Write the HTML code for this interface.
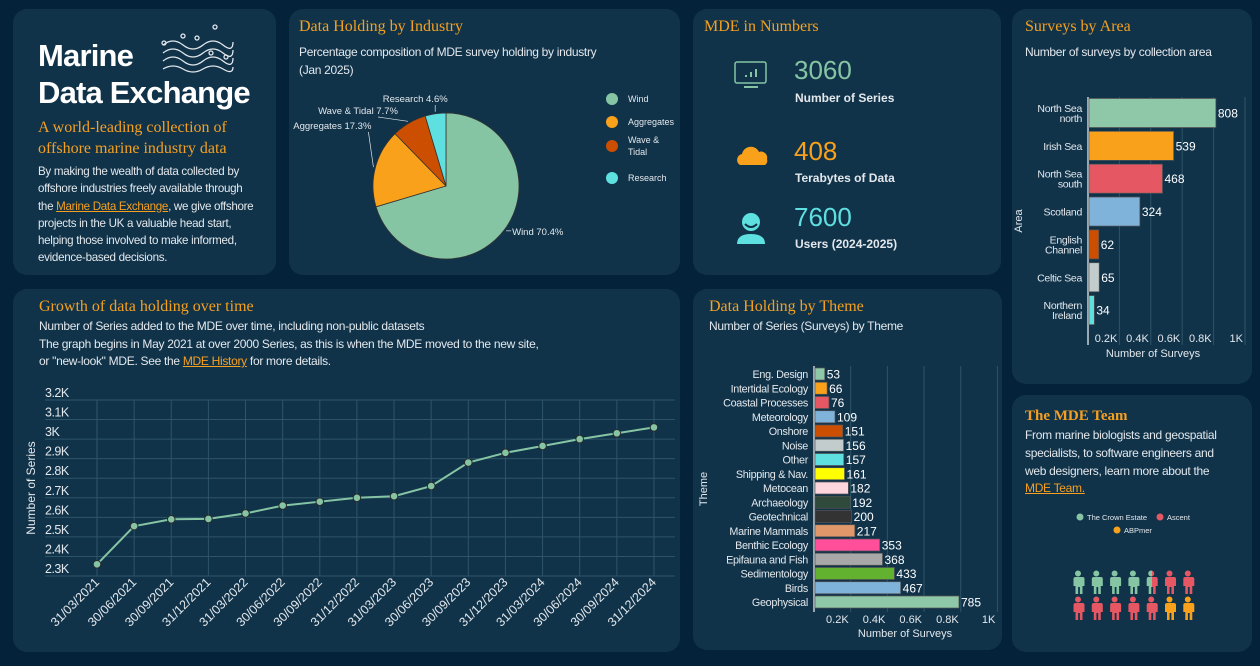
<!DOCTYPE html>
<html><head><meta charset="utf-8">
<style>
*{margin:0;padding:0;box-sizing:border-box}
body{width:1260px;height:666px;background:#04223a;font-family:"Liberation Sans",sans-serif;color:#e3e8ec;position:relative;overflow:hidden}
.p{position:absolute;background:#11334a;border-radius:14px}
.t{position:absolute;font-family:"Liberation Serif",serif;color:#f5a020;font-size:16px;white-space:nowrap}
.s{position:absolute;font-size:12px;letter-spacing:-0.3px;color:#e3e8ec;line-height:17.5px;white-space:nowrap}
a{color:#f5a020;text-decoration:underline}
svg{position:absolute;left:0;top:0}
svg text{font-family:"Liberation Sans",sans-serif}
</style></head><body>
<div class="p" style="left:13px;top:9px;width:263px;height:266px"></div>
<div class="p" style="left:289px;top:9px;width:391px;height:266px"></div>
<div class="p" style="left:693px;top:9px;width:308px;height:266px"></div>
<div class="p" style="left:1012px;top:9px;width:240px;height:375px"></div>
<div class="p" style="left:13px;top:289px;width:667px;height:363px"></div>
<div class="p" style="left:693px;top:289px;width:309px;height:361px"></div>
<div class="p" style="left:1012px;top:395px;width:240px;height:257px"></div>

<div style="position:absolute;left:38px;top:37px;font-size:31px;font-weight:bold;line-height:37px;color:#fff;letter-spacing:-0.8px">Marine<br>Data Exchange</div>
<div class="t" style="left:38px;top:117px;font-size:16px;line-height:21px">A world-leading collection of<br>offshore marine industry data</div>
<div class="s" style="left:38px;top:163px;font-size:11.6px;line-height:17.3px">By making the wealth of data collected by<br>offshore industries freely available through<br>the <a>Marine Data Exchange</a>, we give offshore<br>projects in the UK a valuable head start,<br>helping those involved to make informed,<br>evidence-based decisions.</div>

<div class="t" style="left:299px;top:18px">Data Holding by Industry</div>
<div class="s" style="left:299px;top:44px">Percentage composition of MDE survey holding by industry<br>(Jan 2025)</div>

<div class="t" style="left:704px;top:18px">MDE in Numbers</div>
<div style="position:absolute;left:794px;top:55px;font-size:26px;color:#86c5a4">3060</div>
<div style="position:absolute;left:795px;top:91px;font-size:12px;font-weight:bold">Number of Series</div>
<div style="position:absolute;left:794px;top:136px;font-size:26px;color:#f9a11b">408</div>
<div style="position:absolute;left:795px;top:171px;font-size:12px;font-weight:bold">Terabytes of Data</div>
<div style="position:absolute;left:794px;top:202px;font-size:26px;color:#5ee0e0">7600</div>
<div style="position:absolute;left:795px;top:237px;font-size:12px;font-weight:bold">Users (2024-2025)</div>

<div class="t" style="left:1025px;top:18px">Surveys by Area</div>
<div class="s" style="left:1025px;top:44px">Number of surveys by collection area</div>

<div class="t" style="left:39px;top:298px">Growth of data holding over time</div>
<div class="s" style="left:39px;top:318px">Number of Series added to the MDE over time, including non-public datasets<br>The graph begins in May 2021 at over 2000 Series, as this is when the MDE moved to the new site,<br>or "new-look" MDE. See the <a>MDE History</a> for more details.</div>

<div class="t" style="left:709px;top:298px">Data Holding by Theme</div>
<div class="s" style="left:709px;top:318px">Number of Series (Surveys)  by Theme</div>

<div class="t" style="left:1025px;top:408px;font-weight:bold;font-size:15px">The MDE Team</div>
<div class="s" style="left:1025px;top:427px;font-size:12px;line-height:17.8px">From marine biologists and geospatial<br>specialists, to software engineers and<br>web designers, learn more about the<br><a>MDE Team.</a></div>

<svg id="s" width="1260" height="666">
<g fill="none" stroke="#e3e8ec" stroke-width="1.3">
<path d="M163 45 q10 -8 20 0 t20 0 t20 0 t10 -3"/><path d="M163 53 q10 -8 20 0 t20 0 t20 0 t10 -3"/><path d="M163 61 q10 -8 20 0 t20 0 t20 0 t10 -3"/><path d="M163 69 q10 -6 20 0 t20 0 t20 0 t10 -2"/>
<circle cx="164" cy="43" r="2"/><circle cx="183" cy="36" r="2"/><circle cx="197" cy="38" r="2"/><circle cx="215" cy="27" r="2"/><circle cx="211" cy="53" r="2"/><circle cx="226" cy="57" r="2"/>
</g>
<g fill="none" stroke="#86c5a4" stroke-width="1.5"><rect x="735" y="62" width="31" height="21" rx="2"/><line x1="744" y1="87" x2="758" y2="87" stroke-width="2"/><path d="M746 77v-2M751 77v-5M756 77v-8" stroke-width="2"/></g>
<path d="M740 165 a6 6 0 0 1 2 -11 a9 9 0 0 1 17 -2 a6 6 0 0 1 8 7 a5 5 0 0 1 -2 6 z" fill="#f9a11b"/>
<g fill="#5ee0e0"><circle cx="751" cy="222" r="9"/><path d="M737 244 q0 -10 14 -10 q14 0 14 10 z"/><path d="M745 224 q6 6 12 0" stroke="#11334a" stroke-width="2" fill="none"/></g>
</svg>

<script>
const NS="http://www.w3.org/2000/svg",S=document.getElementById('s');
function el(t,a,p){const e=document.createElementNS(NS,t);for(const k in a)e.setAttribute(k,a[k]);(p||S).appendChild(e);return e;}
function tx(x,y,s,a,p){const e=el('text',Object.assign({x:x,y:y,fill:'#e3e8ec','font-size':11},a),p);e.textContent=s;return e;}

// ---- Pie data
const pieLabels=["Wind","Aggregates","Wave & Tidal","Research"];
const pieValues=[70.4,17.3,7.7,4.6];
const pieColors=["#86c5a4","#f9a11b","#cc4e00","#5ee0e0"];
// ---- Growth data
const growthDates=["31/03/2021","30/06/2021","30/09/2021","31/12/2021","31/03/2022","30/06/2022","30/09/2022","31/12/2022","31/03/2023","30/06/2023","30/09/2023","31/12/2023","31/03/2024","30/06/2024","30/09/2024","31/12/2024"];
const growthValues=[2360,2555,2590,2592,2620,2660,2680,2700,2708,2760,2880,2930,2965,3000,3030,3060];
const growthTicks=[2300,2400,2500,2600,2700,2800,2900,3000,3100,3200];
const growthTickLabels=["2.3K","2.4K","2.5K","2.6K","2.7K","2.8K","2.9K","3K","3.1K","3.2K"];
// ---- Theme data
const themeNames=["Eng. Design","Intertidal Ecology","Coastal Processes","Meteorology","Onshore","Noise","Other","Shipping & Nav.","Metocean","Archaeology","Geotechnical","Marine Mammals","Benthic Ecology","Epifauna and Fish","Sedimentology","Birds","Geophysical"];
const themeValues=[53,66,76,109,151,156,157,161,182,192,200,217,353,368,433,467,785];
const themeColors=["#8fc8a8","#f9a11b","#e45763","#7fb3d9","#cc4e00","#c2cccc","#5ee0e0","#ffff00","#fdd5dc","#2f4a3a","#333333","#e0986a","#ff4f9a","#a8a8a8","#62b22f","#7fb3d9","#8fc8a8"];
// ---- Area data
const areaNames=[["North Sea","north"],["Irish Sea"],["North Sea","south"],["Scotland"],["English","Channel"],["Celtic Sea"],["Northern","Ireland"]];
const areaValues=[808,539,468,324,62,65,34];
const areaColors=["#8fc8a8","#f9a11b","#e45763","#7fb3d9","#cc4e00","#c2cccc","#5ee0e0"];
const barTicks=[200,400,600,800,1000];
const barTickLabels=["0.2K","0.4K","0.6K","0.8K","1K"];
// ---- Team data
const teamOrgs=["The Crown Estate","Ascent","ABPmer"];
const teamCounts=[4.5,7.5,2];
const teamColors=["#86c5a4","#e45763","#f9a11b"];

// Pie
(function(){const cx=446,cy=186,r=73,tot=pieValues.reduce((a,b)=>a+b,0);let a0=-Math.PI/2;
const g=el('g',{});
pieValues.forEach((v,i)=>{const a1=a0+v/tot*2*Math.PI;const l=a1-a0>Math.PI?1:0;
 const p=el('path',{d:`M${cx} ${cy}L${cx+r*Math.cos(a0)} ${cy+r*Math.sin(a0)}A${r} ${r} 0 ${l} 1 ${cx+r*Math.cos(a1)} ${cy+r*Math.sin(a1)}Z`,fill:pieColors[i],stroke:'#333',"stroke-width":0.8},g);
 
 
 const am=(a0+a1)/2,ex=cx+(r+2)*Math.cos(am),ey=cy+(r+2)*Math.sin(am);
 let lx,ly,anchor;
 if(i==0){lx=ex+6;ly=ey+4;anchor='start';}
 else if(i==1){lx=ex-2;ly=129;anchor='end';}
 else if(i==2){lx=ex-50;ly=114;anchor='middle';}
 else {lx=ex-20;ly=102;anchor='middle';}
 el('line',{x1:ex,y1:ey,x2:i==0?lx-1:(i==1?lx-3:lx+20),y2:i==0?ly-4:ly+3,stroke:'#e3e8ec','stroke-width':0.7},g);
 const t=tx(lx,ly,pieLabels[i]+" "+v+"%",{'font-size':9.5,'text-anchor':anchor},g);
 
 a0=a1;});
pieLabels.forEach((n,i)=>{const y=[99,122,146,178][i];
 el('circle',{cx:612,cy:y,r:6,fill:pieColors[i]},g);
 const lines=n=="Wave & Tidal"?["Wave &","Tidal"]:[n];
 lines.forEach((s,j)=>{const t=tx(628,y+3+(lines.length>1?(j*12-6):0),s,{'font-size':9},g);});});
})();

// Growth line
(function(){const g=el('g',{});
const x0=97,dx=37.13,y=v=>576-(v-2300)*(176/900);
growthTicks.forEach((v,i)=>{el('line',{x1:45,x2:675,y1:y(v),y2:y(v),stroke:'#2e5468','stroke-width':1},g);
 const t=tx(45,y(v)-3,growthTickLabels[i],{'font-size':12.5,'letter-spacing':'-0.5'},g);});
growthDates.forEach((d,i)=>{const x=x0+i*dx;el('line',{x1:x,x2:x,y1:400,y2:576,stroke:'#2e5468'},g);
 const t=tx(x+3,583,d,{'font-size':12.5,'text-anchor':'end',transform:`rotate(-45 ${x+3} 583)`},g);});
el('polyline',{points:growthValues.map((v,i)=>(x0+i*dx)+','+y(v)).join(' '),fill:'none',stroke:'#86c5a4','stroke-width':2},g);
growthValues.forEach((v,i)=>{const c=el('circle',{cx:x0+i*dx,cy:y(v),r:3.8,fill:'#86c5a4',stroke:'#2a2a2a','stroke-width':1},g);
 });
const yt=tx(35,488,"Number of Series",{'font-size':12,'text-anchor':'middle',transform:'rotate(-90 35 488)'},g);
})();

// Horizontal bar helper
function hbars(name,names,vals,cols,ax,k,yc0,dy,bh,gy0,gy1,tickY,titleX,titleY,yTitle,yTitleX,fs){
const g=el('g',{});
barTicks.forEach((v,i)=>{const x=ax+v*k;el('line',{x1:x,x2:x,y1:gy0,y2:gy1,stroke:'#2e5468'},g);
 const t=tx(x-2,tickY,barTickLabels[i],{'font-size':11,'text-anchor':'end'},g);});
el('line',{x1:ax,x2:ax,y1:gy0,y2:gy1,stroke:'#c8d0d4','stroke-width':1.5},g);
vals.forEach((v,i)=>{const yc=yc0+i*dy;
 const r=el('rect',{x:ax+1,y:yc-bh/2,width:v*k,height:bh,fill:cols[i],stroke:'#555','stroke-width':0.7},g);
 
 const vt=tx(ax+v*k+3,yc+4.5,String(v),{'font-size':12,fill:'#fff'},g);
 const n=Array.isArray(names[i])?names[i]:[names[i]];
 n.forEach((s,j)=>{const t=tx(ax-6,yc+4+(n.length>1?(j*10-5):0),s,{'font-size':fs,'text-anchor':'end','letter-spacing':'-0.3'},g);});});
const xt=tx(titleX,titleY,"Number of Surveys",{'font-size':11,'text-anchor':'middle'},g);
const yt=tx(yTitleX,(gy0+gy1)/2,yTitle,{'font-size':11,'text-anchor':'middle',transform:`rotate(-90 ${yTitleX} ${(gy0+gy1)/2})`},g);}
hbars('theme-chart',themeNames,themeValues,themeColors,814,0.1834,374,14.25,12,366,612,623,905,637,"Theme",707,10.8);
hbars('area-chart',areaNames,areaValues,areaColors,1088,0.157,113,32.85,29,97,345,342,1153,357,"Area",1022,10.5);

// Team
(function(){const g=el('g',{});
[[1080,520,0],[1160,520,1],[1117,533,2]].forEach(([x,y,i])=>{el('circle',{cx:x,cy:y-3,r:3.5,fill:teamColors[i]},g);
 const t=tx(x+7,y,teamOrgs[i],{'font-size':7.5},g);});
const defs=el('defs',{},g);let cum=[];let c=0;teamCounts.forEach(v=>{c+=v;cum.push(c);});
for(let n=0;n<14;n++){const x=1078+(n%7)*18.3,y=n<7?570:596;
 let ci=cum.findIndex(v=>v>n);let col=teamColors[ci];
 let fill=col;
 if(cum[ci]-n<1){const gr=el('linearGradient',{id:'g'+n},defs);el('stop',{offset:'0.5','stop-color':col},gr);el('stop',{offset:'0.5','stop-color':teamColors[ci+1]},gr);fill='url(#g'+n+')';}
 const p=el('path',{d:`M${x-4.5} ${y+7}h9a2 2 0 0 1 2 2v7h-2v8h-2.6v-7h-1.8v7h-2.6v-8h-2v-7a2 2 0 0 1 2 -2z M${x} ${y+0.5}a3 3 0 1 1 0 6a3 3 0 1 1 0 -6z`,fill:fill},g);
 }
})();
</script>
</body></html>
